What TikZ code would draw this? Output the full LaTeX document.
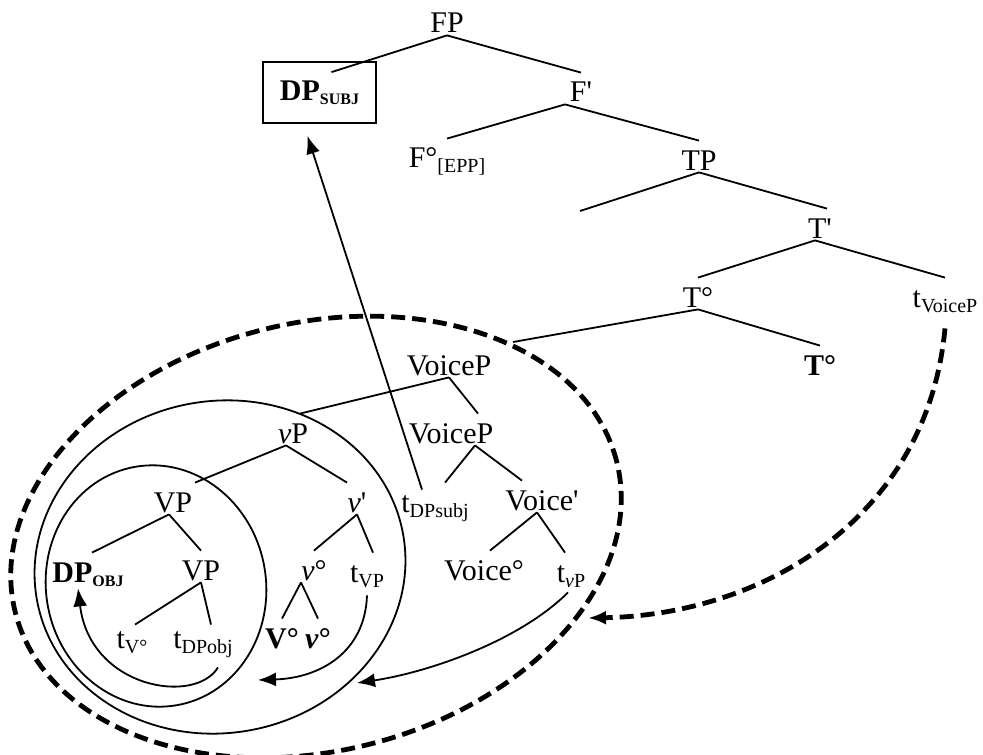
\documentclass[tikz,border=0pt]{standalone}
\usepackage{fontspec}
\setmainfont{Liberation Serif}
\usetikzlibrary{arrows.meta}

% lowered small labels (traces, features)
\newcommand{\lsub}[1]{\raisebox{-2.5pt}{\fontsize{10}{10}\selectfont #1}}
\newcommand{\lsubb}[1]{\raisebox{-2pt}{\fontsize{8}{8}\selectfont\bfseries #1}}

\begin{document}
\begin{tikzpicture} [
    x=0.5pt, y=-0.5pt,                 % pixel grid, y grows downwards
    font=\fontsize{15}{18}\selectfont,
    ]
% -------------------------------------------------
\tikzset{
  tn/.style={inner sep=0pt, anchor=base, text height=14.5pt, text depth=1pt},
  br/.style={draw, line width=0.9pt},
  ring/.style={draw, line width=0.9pt},
  ringd/.style={draw, line width=2.4pt, dash pattern=on 7pt off 3.5pt},
  mv/.style={draw, line width=0.9pt, -{Latex[length=9pt,width=7pt]}},
  mvd/.style={ringd, -{Latex[length=9pt,width=7pt]}}
}
    \useasboundingbox (0,0) rectangle (983,754);

    % upper spine
    \node [tn] (fp) at (447,33) {FP};
    \node [draw, line width=0.9pt, minimum width=56.5pt, minimum height=30.5pt,
           inner sep=0pt] (dps) at (319.5,92.5) {\textbf{DP}\lsubb{SUBJ}};
    \node [tn] (fb) at (581,102) {F\textquotesingle};
    \node [tn] (fo) at (447,168) {F°\lsub{[EPP]}};
    \node [tn] (tp) at (699,170) {TP};
    \coordinate (tspec) at (580,211);
    \node [tn] (tb) at (820,238) {T\textquotesingle};
    \node [tn] (to) at (698,307) {T°};
    \node [tn] (tvc) at (945,307) {t\lsub{VoiceP}};
    \coordinate (tcomp) at (513,342);
    \node [tn] (tob) at (820,375) {\textbf{T°}};

    % VoiceP shell
    \node [tn] (vc) at (449,375) {VoiceP};
    \node [tn] (vc2) at (451,443) {VoiceP};
    \node [tn] (tdps) at (435,512) {t\lsub{DPsubj}};
    \node [tn] (vcb) at (542,510) {Voice\textquotesingle};
    \node [tn] (vco) at (484,580) {Voice°};
    \node [tn] (tlvp) at (571,582) {t\lsub{\textit{v}P}};

    % vP shell
    \node [tn] (lvp) at (293,443) {\textit{v}P};
    \node [tn] (lvb) at (357,512) {\textit{v}\textquotesingle};
    \node [tn] (lvo) at (314,580) {\textit{v}°};
    \node [tn] (tvp) at (367,582) {t\lsub{VP}};
    \node [tn] (vob) at (282,648) {\textbf{V°}};
    \node [tn] (lvob) at (318,648) {\textbf{\textit{v}°}};

    % VP shell
    \node [tn] (vpa) at (173,512) {VP};
    \node [tn] (dpo) at (88,582) {\textbf{DP}\lsubb{OBJ}};
    \node [tn] (vpb) at (201,580) {VP};
    \node [tn] (tvo) at (132,648) {t\lsub{V°}};
    \node [tn] (tdpo) at (203,648) {t\lsub{DPobj}};

    % landing sites of the moved pieces
    \coordinate (vpland) at (258,680);
    \coordinate (lvpland) at (357,683);
    \coordinate (vcland) at (588,618);

    % encircled constituents
    \path [ring, rotate around={10:(156,586)}] (156,586) ellipse [x radius=55pt, y radius=60.5pt];
    \path [ring, rotate around={10:(220,567)}] (220,567) ellipse [x radius=93pt, y radius=83pt];
    \path [ringd, rotate around={14:(316,537)}] (316,537) ellipse [x radius=155pt, y radius=107pt];

    % branches
    \path [br] (fp.south) -- ([xshift=6pt,yshift=-5.5pt]dps.north);
    \path [br] (fp.south) -- (fb.north);
    \path [br] ([xshift=-8pt]fb.south) -- (fo.north);
    \path [br] ([xshift=-8pt]fb.south) -- (tp.north);
    \path [br] (tp.south) -- (tspec);
    \path [br] (tp.south) -- ([xshift=3.5pt]tb.north);
    \path [br] ([xshift=-2.5pt]tb.south) -- (to.north);
    \path [br] ([xshift=-2.5pt]tb.south) -- (tvc.north);
    \path [br] (to.south) -- (tcomp);
    \path [br] (to.south) -- (tob.north);

    \path [br] (vc.south) -- ([xshift=3.5pt]lvp.north);
    \path [br] (vc.south) -- ([xshift=13.5pt]vc2.north);
    \path [br] ([xshift=12pt]vc2.south) -- ([xshift=5pt]tdps.north);
    \path [br] ([xshift=12pt]vc2.south) -- ([xshift=-10pt]vcb.north);
    \path [br] ([xshift=-2.5pt]vcb.south) -- ([xshift=3pt]vco.north);
    \path [br] ([xshift=-2.5pt]vcb.south) -- ([xshift=-3pt]tlvp.north);

    \path [br] ([xshift=-3.5pt]lvp.south) -- ([xshift=11pt]vpa.north);
    \path [br] ([xshift=-3.5pt]lvp.south) -- ([xshift=-5pt]lvb.north);
    \path [br] (lvb.south) -- (lvo.north);
    \path [br] (lvb.south) -- ([xshift=3pt]tvp.north);
    \path [br] ([xshift=-6.5pt]lvo.south) -- (vob.north);
    \path [br] ([xshift=-6.5pt]lvo.south) -- (lvob.north);

    \path [br] ([xshift=-2pt]vpa.south) -- ([xshift=2pt]dpo.north);
    \path [br] ([xshift=-2pt]vpa.south) -- (vpb.north);
    \path [br] (vpb.south) -- ([xshift=1.5pt,yshift=-3pt]tvo.north);
    \path [br] (vpb.south) -- ([xshift=4pt,yshift=-3pt]tdpo.north);

    % movement
    \path [mv] ([xshift=-6.5pt,yshift=-3.5pt]tdps.north) -- ([xshift=-6pt,yshift=-6pt]dps.south);
    \path [mv] ([xshift=7.5pt,yshift=-8.5pt]tdpo.south) .. controls +(-23,38) and +(12,100) .. ([xshift=-5pt,yshift=-2pt]dpo.south);
    \path [mv] ([yshift=-5.5pt]tvp.south) .. controls +(-2,57) and +(62,-2) .. (vpland);
    \path [mv] ([xshift=-1.5pt,yshift=-4pt]tlvp.south) .. controls +(-48,48) and +(73,-11) .. (lvpland);
    \path [mvd] ([yshift=-9.5pt]tvc.south) .. controls +(-18,192) and +(172,-3) .. (vcland);

\end{tikzpicture}
\end{document}
